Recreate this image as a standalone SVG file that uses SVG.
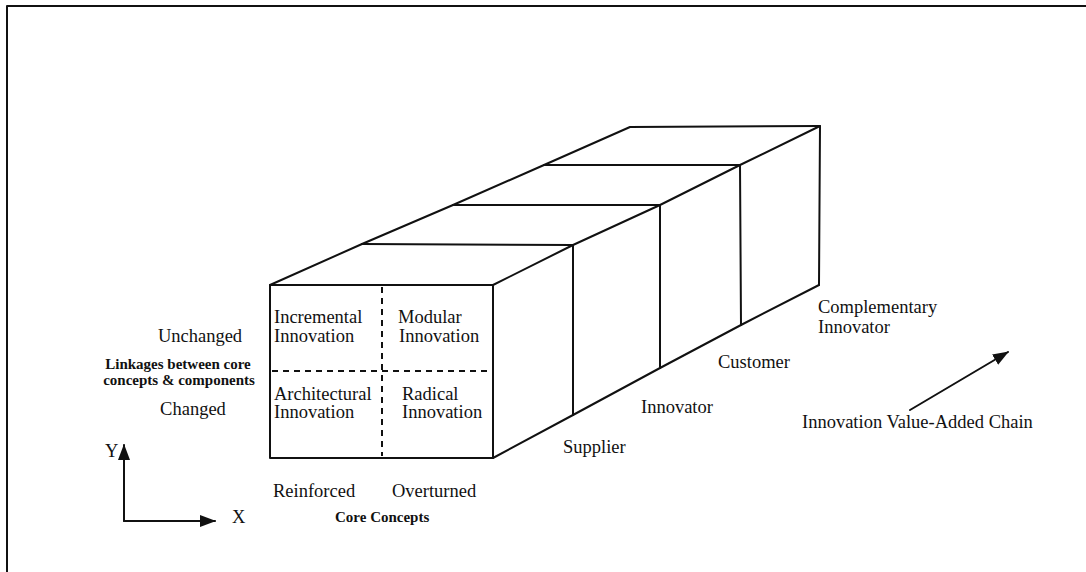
<svg xmlns="http://www.w3.org/2000/svg" width="1086" height="572" viewBox="0 0 1086 572">
  <style>
    .edge { fill: none; stroke: #111; stroke-width: 2; stroke-linejoin: round; stroke-linecap: round; }
    .dash { fill: none; stroke: #111; stroke-width: 2; stroke-dasharray: 6 5; }
    .t { font-family: "Liberation Serif", "Times New Roman", serif; font-size: 18.5px; fill: #111; }
    .tb { font-family: "Liberation Serif", "Times New Roman", serif; font-size: 15px; font-weight: bold; fill: #111; }
    .mid { text-anchor: middle; }
  </style>
  <defs>
    <marker id="head" viewBox="0 0 16 12" refX="15" refY="6" markerWidth="16" markerHeight="12" markerUnits="userSpaceOnUse" orient="auto">
      <path d="M0,0 L16,6 L0,12 Z" fill="#111"/>
    </marker>
  </defs>

  <rect width="1086" height="572" fill="#fff"/>

  <!-- frame -->
  <g id="frame">
    <polyline class="edge" points="7,572 7,6 1086,6" stroke-linecap="butt"/>
  </g>

  <!-- value chain prism: front cube plus three segments behind it -->
  <g id="prism">
    <rect class="edge" x="270" y="285" width="223" height="173"/>
    <!-- top face -->
    <polyline class="edge" points="270,285 362,244 453,205 544,165 630,127 820,126"/>
    <line class="edge" x1="362" y1="244" x2="573" y2="245"/>
    <line class="edge" x1="453" y1="205" x2="660" y2="205"/>
    <line class="edge" x1="544" y1="165" x2="740" y2="165"/>
    <!-- right face -->
    <polyline class="edge" points="493,285 573,245 660,205 740,165 820,126 819,285"/>
    <polyline class="edge" points="493,458 573,415 660,368 741,325 819,285"/>
    <line class="edge" x1="573" y1="245" x2="573" y2="415"/>
    <line class="edge" x1="660" y1="205" x2="660" y2="368"/>
    <line class="edge" x1="740" y1="165" x2="741" y2="325"/>
    <!-- quadrant dividers -->
    <line class="dash" x1="382" y1="287" x2="382" y2="456"/>
    <line class="dash" x1="272" y1="371" x2="491" y2="371"/>
  </g>

  <g id="q-incremental">
    <text class="t" x="274" y="323">Incremental</text>
    <text class="t" x="274" y="342">Innovation</text>
  </g>
  <g id="q-modular">
    <text class="t" x="398" y="323">Modular</text>
    <text class="t" x="399" y="342">Innovation</text>
  </g>
  <g id="q-architectural">
    <text class="t" x="274" y="400">Architectural</text>
    <text class="t" x="274" y="418">Innovation</text>
  </g>
  <g id="q-radical">
    <text class="t" x="402" y="400">Radical</text>
    <text class="t" x="402" y="418">Innovation</text>
  </g>

  <!-- y-axis labels -->
  <g id="y-labels">
    <text class="t mid" x="200" y="342">Unchanged</text>
    <text class="tb mid" x="178" y="369">Linkages between core</text>
    <text class="tb mid" x="179" y="385">concepts &amp; components</text>
    <text class="t mid" x="193" y="415">Changed</text>
  </g>

  <!-- x-axis labels -->
  <g id="x-labels">
    <text class="t" x="273" y="497">Reinforced</text>
    <text class="t" x="392" y="497">Overturned</text>
    <text class="tb" x="335" y="522">Core Concepts</text>
  </g>

  <!-- chain stages -->
  <g id="stage-supplier"><text class="t" x="563" y="453">Supplier</text></g>
  <g id="stage-innovator"><text class="t" x="641" y="413">Innovator</text></g>
  <g id="stage-customer"><text class="t" x="718" y="368">Customer</text></g>
  <g id="stage-complementary">
    <text class="t" x="818" y="313">Complementary</text>
    <text class="t" x="818" y="333">Innovator</text>
  </g>

  <g id="chain-label"><text class="t" x="802" y="428">Innovation Value-Added Chain</text></g>

  <g id="axis-names">
    <text class="t" x="105" y="457">Y</text>
    <text class="t" x="232" y="523">X</text>
  </g>

  <!-- arrows -->
  <g id="connectors">
    <line class="edge" x1="124" y1="521" x2="124" y2="445" marker-end="url(#head)" stroke-linecap="butt"/>
    <line class="edge" x1="124" y1="521" x2="215" y2="521" marker-end="url(#head)" stroke-linecap="butt"/>
    <line class="edge" x1="910" y1="410" x2="1008" y2="352" marker-end="url(#head)" stroke-width="2.5" stroke-linecap="butt"/>
  </g>
</svg>
